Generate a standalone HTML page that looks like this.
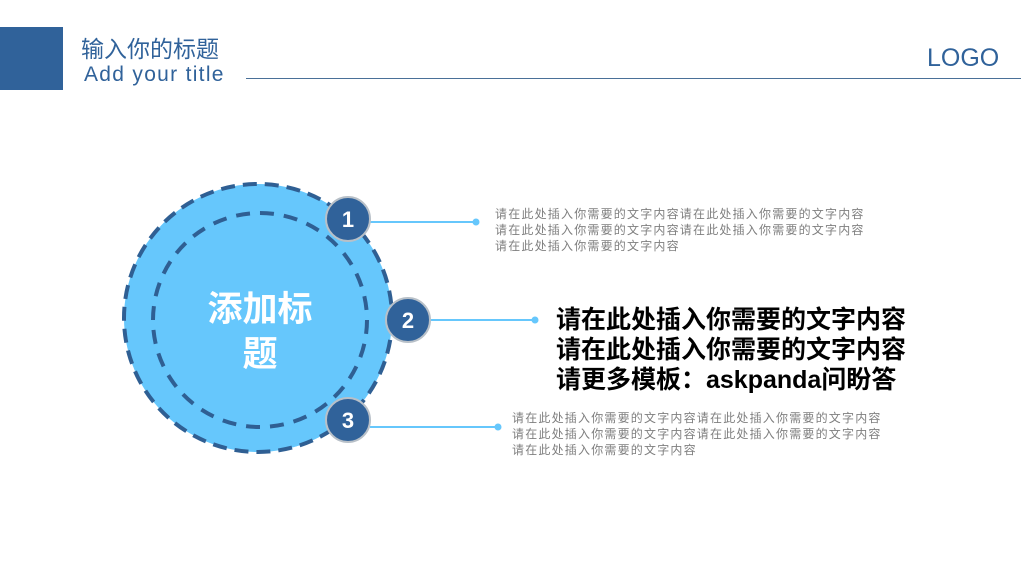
<!DOCTYPE html>
<html><head><meta charset="utf-8"><style>
body{margin:0;width:1021px;height:567px;background:#fff;position:relative;overflow:hidden;font-family:"Liberation Sans","Noto Sans CJK SC",sans-serif}
.a{position:absolute;white-space:nowrap}
.s{font-size:12px;color:#7f7f7f;line-height:16px;letter-spacing:1.2px}
.b{font-size:25px;font-weight:bold;color:#000;line-height:30px;letter-spacing:0px}
</style></head><body>
<div class="a" style="left:0;top:27px;width:63px;height:63px;background:#30629a"></div>
<div class="a" style="left:81px;top:30px;font-size:23px;color:#30629a">输入你的标题</div>
<div class="a" style="left:84px;top:63px;font-size:21px;color:#30629a;letter-spacing:1.3px">Add your title</div>
<div class="a" style="left:246px;top:78px;width:775px;height:1px;background:#4a7098"></div>
<div class="a" style="left:927px;top:44px;font-size:25px;color:#30629a">LOGO</div>
<svg class="a" style="left:0;top:0" width="1021" height="567">
<circle cx="258" cy="318" r="134" fill="#66c7fc" stroke="#2f5f93" stroke-width="4" stroke-dasharray="14 8"/>
<circle cx="260" cy="320" r="107" fill="none" stroke="#2f5f93" stroke-width="4" stroke-dasharray="14 10"/>
<g stroke="#66c7fc" stroke-width="2">
<line x1="370" y1="222" x2="476" y2="222"/><line x1="430" y1="320" x2="535" y2="320"/><line x1="370" y1="427" x2="498" y2="427"/></g>
<g fill="#66c7fc"><circle cx="476" cy="222" r="3.5"/><circle cx="535" cy="320" r="3.5"/><circle cx="498" cy="427" r="3.5"/></g>
<g fill="#30629a" stroke="#b8c0c8" stroke-width="2">
<circle cx="348" cy="219" r="22"/><circle cx="408" cy="320" r="22"/><circle cx="348" cy="420" r="22"/></g>
<g fill="#fff" font-size="22" font-weight="bold" text-anchor="middle" font-family="Liberation Sans, sans-serif">
<text x="348" y="227">1</text><text x="408" y="328">2</text><text x="348" y="428">3</text></g>
<g fill="#fff" font-size="35" font-weight="bold" text-anchor="middle" font-family="Liberation Sans, Noto Sans CJK SC, sans-serif">
<text x="260" y="321">添加标</text><text x="260" y="366">题</text></g>
</svg>
<div class="a s" style="left:495px;top:206px">请在此处插入你需要的文字内容请在此处插入你需要的文字内容<br>请在此处插入你需要的文字内容请在此处插入你需要的文字内容<br>请在此处插入你需要的文字内容</div>
<div class="a b" style="left:556px;top:305px">请在此处插入你需要的文字内容<br>请在此处插入你需要的文字内容<br>请更多模板：askpanda问盼答</div>
<div class="a s" style="left:512px;top:410px">请在此处插入你需要的文字内容请在此处插入你需要的文字内容<br>请在此处插入你需要的文字内容请在此处插入你需要的文字内容<br>请在此处插入你需要的文字内容</div>
</body></html>
